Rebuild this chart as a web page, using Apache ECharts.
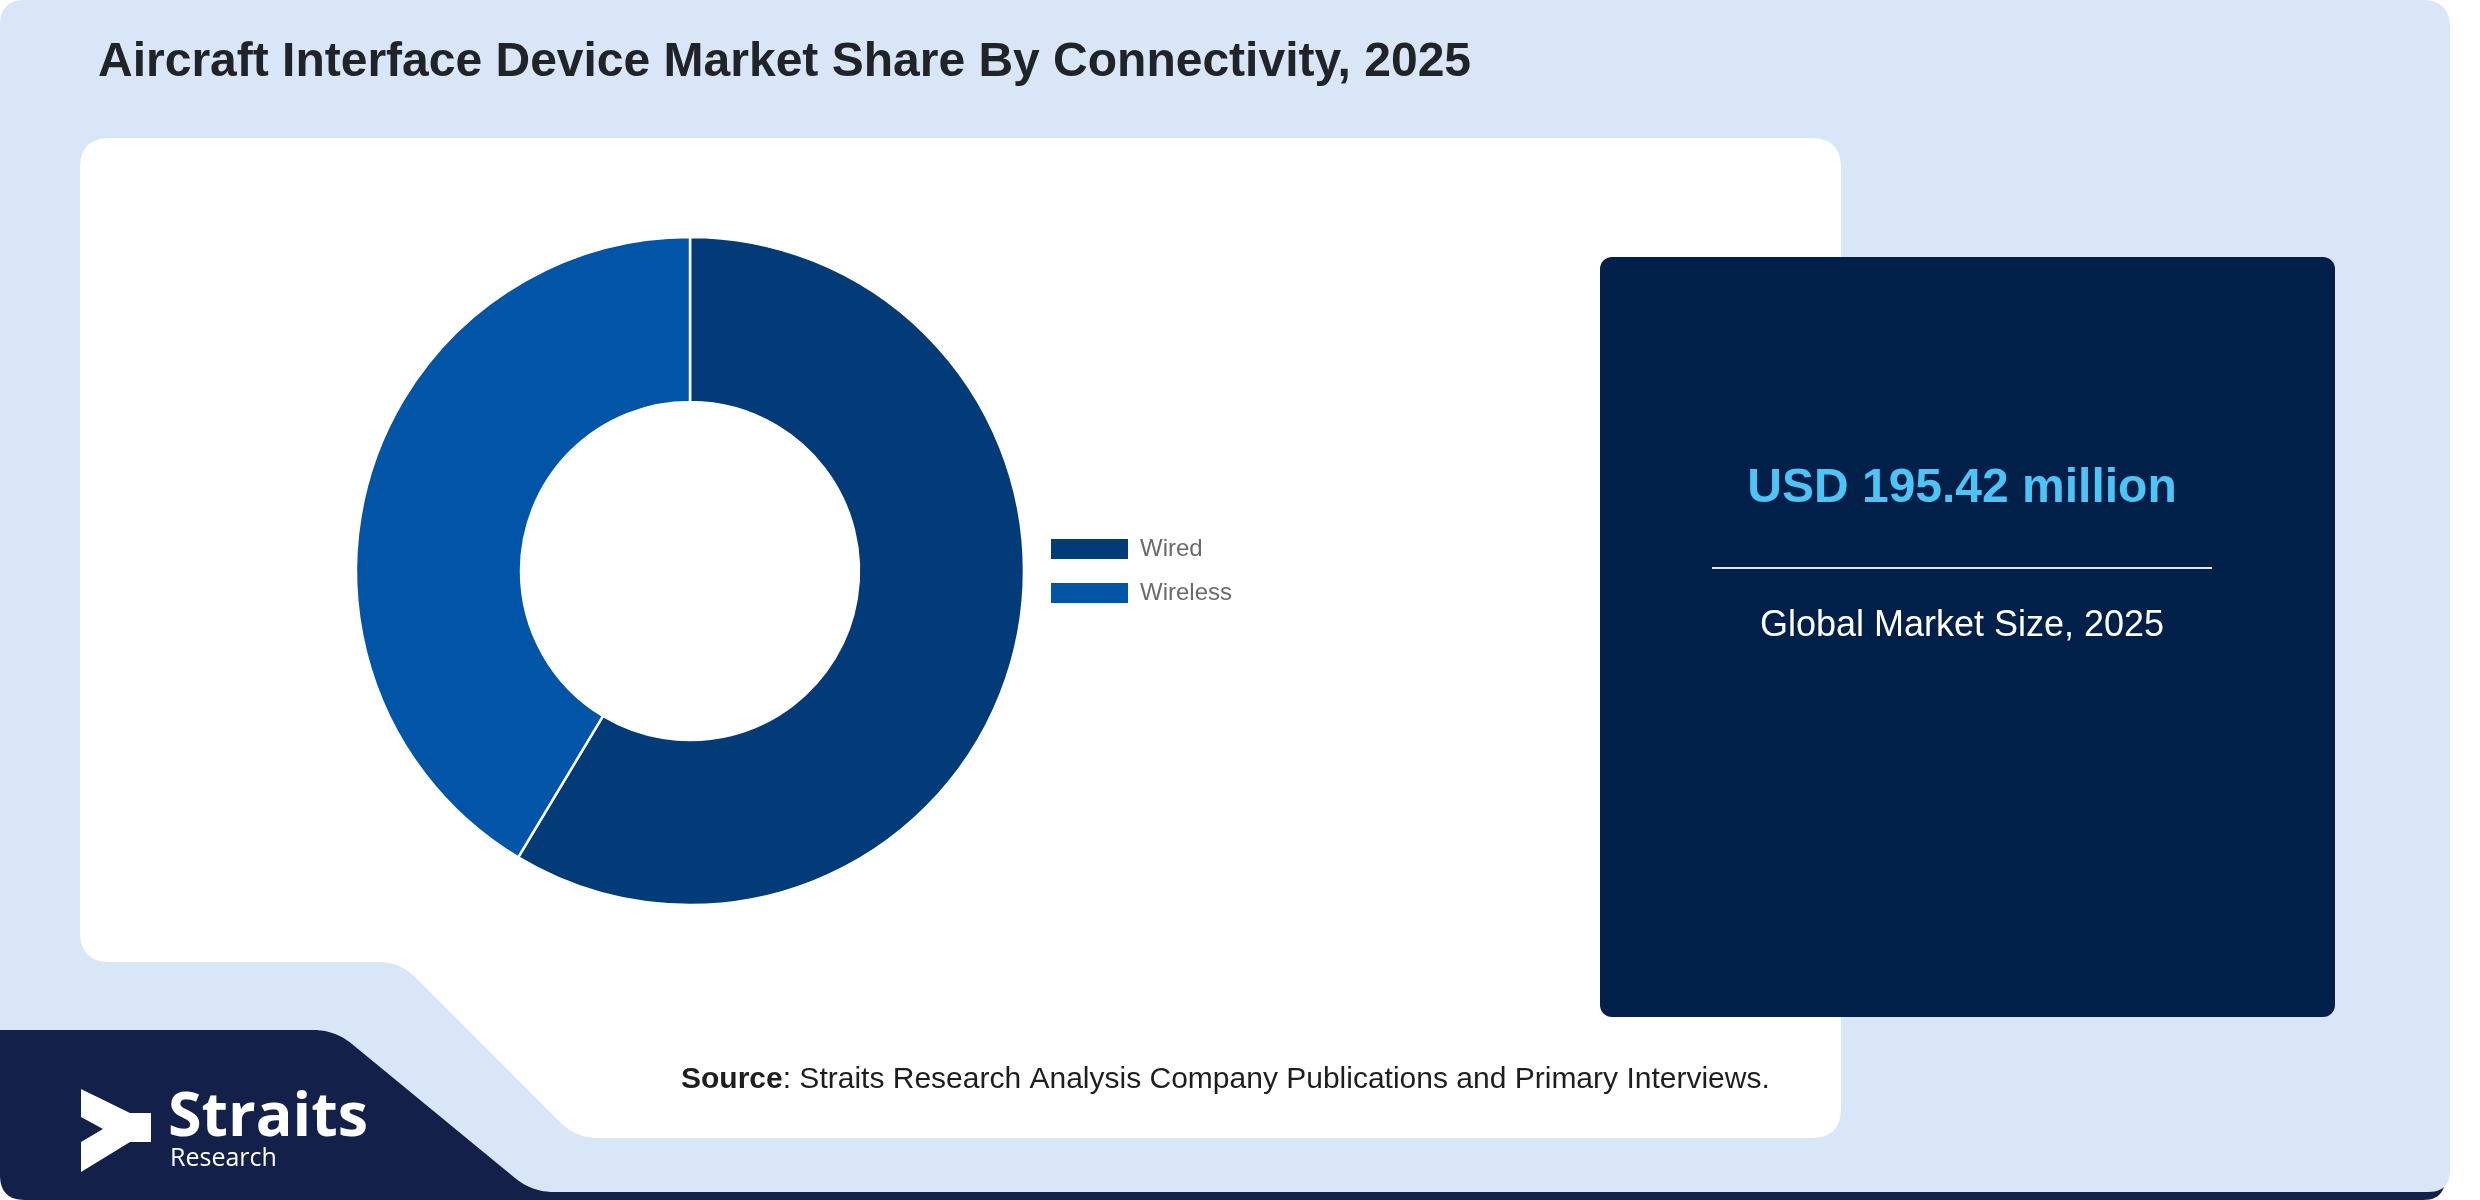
<!DOCTYPE html>
<html>
<head>
<meta charset="utf-8">
<script src="https://cdn.jsdelivr.net/npm/echarts@6/dist/echarts.min.js"></script>
<style>
html,body{margin:0;padding:0;background:#ffffff;}
#chart{width:2480px;height:1200px;}
</style>
</head>
<body>
<div id="chart"></div>
<script>
// ---- data ----
const chartTitle = 'Aircraft Interface Device Market Share By Connectivity, 2025';
const categories = ['Wired', 'Wireless'];
const shares = [58.6, 41.4];
const marketValue = 'USD 195.42 million';
const marketLabel = 'Global Market Size, 2025';
const sourceLabel = 'Source';
const sourceText = ': Straits Research Analysis Company Publications and Primary Interviews.';
const brandName = 'Straits';
const brandSub = 'Research';

// ---- styles ----
const sliceColors = ['#033b78', '#0254a6'];
const FONT = '"Liberation Sans", Arial, sans-serif';

// rounded polygon helper: corners [[x,y,r],...]
function roundedPoly(corners) {
  const out = [];
  const n = corners.length;
  for (let i = 0; i < n; i++) {
    const p = corners[i], prev = corners[(i - 1 + n) % n], next = corners[(i + 1) % n];
    const r = p[2] || 0;
    if (!r) { out.push([p[0], p[1]]); continue; }
    const d1x = prev[0] - p[0], d1y = prev[1] - p[1];
    const d2x = next[0] - p[0], d2y = next[1] - p[1];
    const l1 = Math.hypot(d1x, d1y), l2 = Math.hypot(d2x, d2y);
    const a = [p[0] + d1x / l1 * r, p[1] + d1y / l1 * r];
    const b = [p[0] + d2x / l2 * r, p[1] + d2y / l2 * r];
    const steps = 12;
    for (let s = 0; s <= steps; s++) {
      const t = s / steps, u = 1 - t;
      out.push([u * u * a[0] + 2 * u * t * p[0] + t * t * b[0],
                u * u * a[1] + 2 * u * t * p[1] + t * t * b[1]]);
    }
  }
  return out;
}

const chart = echarts.init(document.getElementById('chart'), null, {renderer: 'canvas'});

const pieData = categories.map((c, i) => ({
  name: c,
  value: shares[i],
  itemStyle: {color: sliceColors[i]}
}));

const option = {
  backgroundColor: '#ffffff',
  animation: false,
  legend: {
    show: true,
    orient: 'vertical',
    left: 1051,
    top: 537,
    padding: 0,
    icon: 'rect',
    itemWidth: 77,
    itemHeight: 20,
    itemGap: 20,
    z: 10,
    data: categories,
    itemStyle: {borderWidth: 0},
    textStyle: {color: '#6b6b6b', fontSize: 24, fontFamily: FONT, padding: [0, 0, 0, 7]},
    selectedMode: false
  },
  series: [{
    type: 'pie',
    z: 10,
    center: [690, 571],
    radius: [169, 334],
    startAngle: 90,
    clockwise: true,
    label: {show: false},
    labelLine: {show: false},
    emphasis: {disabled: true},
    itemStyle: {borderColor: '#ffffff', borderWidth: 2.5},
    data: pieData
  }],
  graphic: [
    // dark base (logo + bottom strip)
    {type: 'polygon', z: 0, shape: {points: roundedPoly([[0,1030,0],[2445,1030,0],[2445,1200,22],[0,1200,25]])},
      style: {fill: '#13204a'}},
    // light blue card
    {type: 'polygon', z: 1, shape: {points: roundedPoly([[0,0,25],[2450,0,28],[2450,1192,22],[532,1192,22],[335,1030,22],[0,1030,0]])},
      style: {fill: '#d9e6f8'}},
    // white panel
    {type: 'polygon', z: 2, shape: {points: roundedPoly([[80,138,30],[1841,138,30],[1841,1138,30],[576,1138,22],[400,962,22],[80,962,30]])},
      style: {fill: '#ffffff'}},
    // dark market panel
    {type: 'rect', z: 3, shape: {x: 1600, y: 257, width: 735, height: 760, r: 12},
      style: {fill: '#00204a'}},
    // title
    {type: 'text', z: 5, x: 98, y: 63,
      style: {text: chartTitle, fill: '#202327', font: 'bold 48px ' + FONT, verticalAlign: 'middle'}},
    // market value
    {type: 'text', z: 5, x: 1962, y: 489,
      style: {text: marketValue, fill: '#4dc3f6', font: 'bold 48px ' + FONT, align: 'center', verticalAlign: 'middle'}},
    {type: 'line', z: 5, shape: {x1: 1712, y1: 568, x2: 2212, y2: 568},
      style: {stroke: '#e2e8f0', lineWidth: 2}},
    {type: 'text', z: 5, x: 1962, y: 626,
      style: {text: marketLabel, fill: '#ffffff', font: '36px ' + FONT, align: 'center', verticalAlign: 'middle'}},
    // source
    {type: 'text', z: 5, x: 681, y: 1080,
      style: {
        text: '{b|' + sourceLabel + '}{n|' + sourceText + '}',
        verticalAlign: 'middle',
        rich: {
          b: {fontFamily: FONT, fontWeight: 'bold', fontSize: 30, fill: '#1e1e1e'},
          n: {fontFamily: FONT, fontSize: 30, fill: '#1e1e1e'}
        }
      }},
    // logo arrow
    {type: 'polygon', z: 5, shape: {points: [[81,1089],[130,1113],[151,1113],[151,1142],[130,1142],[81,1172],[81,1142],[103,1129],[81,1117]]},
      style: {fill: '#ffffff'}},
    {type: 'text', z: 5, x: 168, y: 1119,
      style: {text: brandName, fill: '#ffffff', font: 'bold 61px "Open Sans", "Noto Sans", sans-serif', verticalAlign: 'middle'}},
    {type: 'text', z: 5, x: 170, y: 1159,
      style: {text: brandSub, fill: '#ffffff', font: '25px "Open Sans", "Noto Sans", sans-serif', verticalAlign: 'middle'}}
  ]
};
chart.setOption(option);
</script>
</body>
</html>
